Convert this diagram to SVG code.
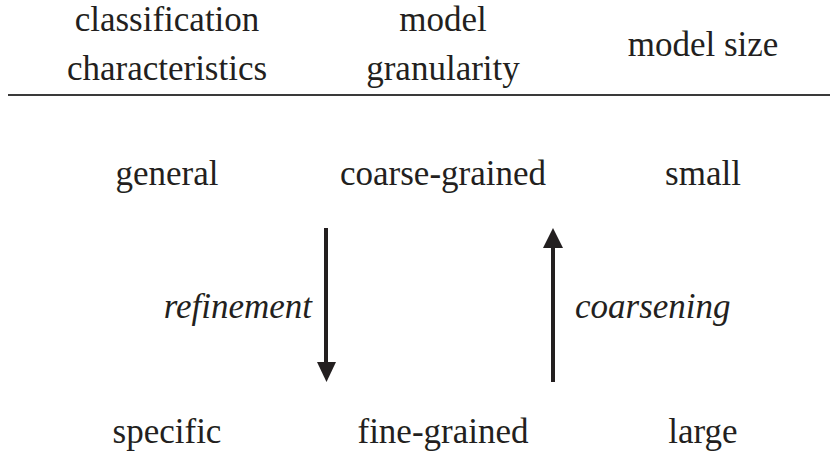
<svg xmlns="http://www.w3.org/2000/svg" width="830" height="460" viewBox="0 0 830 460">
<style>
text{font-family:"Liberation Serif","Times New Roman",serif;font-size:35px;fill:#231f20;text-anchor:middle}
.it{font-style:italic}
.conn{stroke:#231f20;stroke-width:4;fill:none}
.head{fill:#231f20}
</style>
<rect width="830" height="460" fill="#fff"/>
<g id="header">
<text x="167" y="31">classification</text>
<text x="167" y="80">characteristics</text>
<text x="443" y="31">model</text>
<text x="443" y="80">granularity</text>
<text x="703" y="56">model size</text>
<line x1="8" y1="95" x2="830" y2="95" stroke="#3a3a3a" stroke-width="2"/>
</g>
<g id="general"><text x="167" y="185">general</text></g>
<g id="coarse-grained"><text x="443" y="185">coarse-grained</text></g>
<g id="small"><text x="703" y="185">small</text></g>
<g id="specific"><text x="167" y="443">specific</text></g>
<g id="fine-grained"><text x="443" y="443">fine-grained</text></g>
<g id="large"><text x="703" y="443">large</text></g>
<g id="connectors">
<line class="conn" x1="326" y1="228" x2="326" y2="364"/>
<polygon class="head" points="317,362 336,362 326.5,382"/>
<text class="it" x="312" y="318" style="text-anchor:end">refinement</text>
<line class="conn" x1="553" y1="382" x2="553" y2="246"/>
<polygon class="head" points="543,248 563,248 553,228"/>
<text class="it" x="575" y="318" style="text-anchor:start">coarsening</text>
</g>
</svg>
